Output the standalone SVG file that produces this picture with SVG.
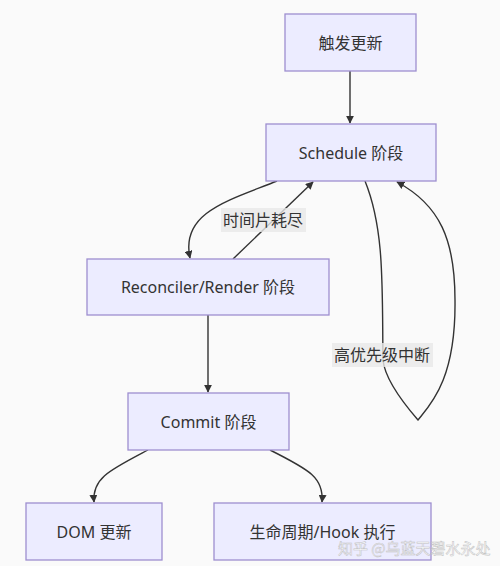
<svg xmlns="http://www.w3.org/2000/svg" width="500" height="566" viewBox="0 0 500 566">
<defs>
<style>
.node rect{fill:#ECECFF;stroke:#9E8FD0;stroke-width:1.3}
.node text,.lbl text{font-family:"Noto Sans","Noto Sans CJK SC",sans-serif;font-size:16px;fill:#333;text-anchor:middle;dominant-baseline:central}
.edge{fill:none;stroke:#333;stroke-width:1.4;marker-end:url(#arr)}
.lbl rect{fill:#e8e8e8;opacity:0.8}
.wm{font-family:"Noto Sans CJK SC",sans-serif;font-size:15px;fill:#fff;stroke:#b8b8b8;stroke-width:0.5;opacity:0.85}
</style>
<marker id="arr" viewBox="0 0 10 10" refX="9" refY="5" markerWidth="8" markerHeight="8" markerUnits="userSpaceOnUse" orient="auto"><path d="M0,0 L10,5 L0,10 z" fill="#333"/></marker>
</defs>
<rect width="500" height="566" fill="#fafafa"/>
<g id="connectors">
<path class="edge" d="M350,71 L350,123"/>
<path class="edge" d="M277,181 C230,200 180,212 190,258"/>
<path class="edge" d="M233,259 L313,182"/>
<path class="edge" d="M365,181 C385,230 382,290 383,360 C385,380 405,405 418,420 C430,405 456,380 455,300 C455,240 440,205 397,182"/>
<path class="edge" d="M208,315 L208,392"/>
<path class="edge" d="M148,450 C110,470 92,478 94,502"/>
<path class="edge" d="M270,450 C310,470 324,478 322,502"/>
</g>
<g id="lbl1" class="lbl"><rect x="221" y="208" width="85" height="24"/><text x="263" y="220">时间片耗尽</text></g>
<g id="lbl2" class="lbl"><rect x="332" y="343" width="101" height="24"/><text x="382" y="355">高优先级中断</text></g>
<g id="n1" class="node"><rect x="285" y="14" width="131" height="57"/><text x="350.5" y="42.5">触发更新</text></g>
<g id="n2" class="node"><rect x="266" y="124" width="170" height="57"/><text x="351" y="152.5">Schedule 阶段</text></g>
<g id="n3" class="node"><rect x="87" y="259" width="242" height="56"/><text x="208" y="287">Reconciler/Render 阶段</text></g>
<g id="n4" class="node"><rect x="128" y="393" width="161" height="57"/><text x="208.5" y="421.5">Commit 阶段</text></g>
<g id="n5" class="node"><rect x="26" y="503" width="136" height="57"/><text x="94" y="531.5">DOM 更新</text></g>
<g id="n6" class="node"><rect x="214" y="503" width="217" height="57"/><text x="322.5" y="531.5">生命周期/Hook 执行</text></g>
<text class="wm" x="338" y="554">知乎 @乌蓝天碧水永处</text>
</svg>
